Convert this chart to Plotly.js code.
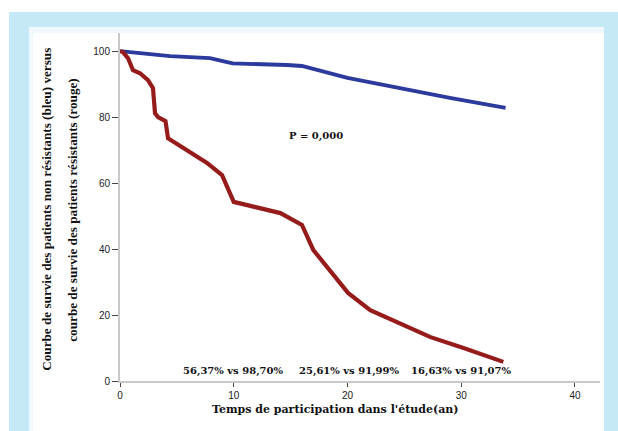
<!DOCTYPE html>
<html>
<head>
<meta charset="utf-8">
<script src="https://cdn.plot.ly/plotly-3.0.1.min.js"></script>
<style>
  html, body { margin: 0; padding: 0; background: #ffffff; }
  #wrap { position: relative; width: 618px; height: 431px; overflow: hidden; background: #ffffff; }
  #outer { position: absolute; left: 9px; top: 12px; width: 609px; height: 419px; background: #c6e9f8; }
  #inner { position: absolute; left: 29px; top: 27px; width: 575px; height: 404px; background: #eef8fd; }
  #white { position: absolute; left: 33px; top: 33px; width: 571px; height: 398px; background: #ffffff; }
  #chart { position: absolute; left: 0; top: 0; width: 618px; height: 431px; }
</style>
</head>
<body>
<div id="wrap">
  <div id="outer"></div>
  <div id="inner"></div>
  <div id="white"></div>
  <div id="chart"></div>
</div>
<script>
// Survival curve of non-resistant patients (blue)
const blueX = [0, 2.8, 3.8, 4.4, 7.9, 9.9, 14.7, 16.0, 20.0, 24.6, 29.0, 33.9];
const blueY = [100, 99.1, 98.6, 98.5, 97.9, 96.3, 95.8, 95.5, 91.9, 88.8, 85.8, 82.8];

// Survival curve of resistant patients (red)
const redX = [0, 0.26, 0.7, 1.14, 1.76, 2.46, 2.9, 3.08, 3.34, 4.0, 4.22, 5.45, 7.65, 8.97, 10.0, 14.1, 16.0, 17.0, 18.2, 20.05, 22.0, 24.4, 27.3, 30.2, 33.7];
const redY = [100, 99.7, 97.9, 94.2, 93.3, 91.2, 88.8, 81.2, 80.0, 78.8, 73.6, 70.9, 66.1, 62.4, 54.3, 50.9, 47.3, 39.7, 34.5, 26.7, 21.5, 17.9, 13.3, 10.0, 5.8];

const xTicks = [0, 10, 20, 30, 40];
const yTicks = [0, 20, 40, 60, 80, 100];

const pText = "P = 0,000";
const compLabels = ["56,37% vs 98,70%", "25,61% vs 91,99%", "16,63% vs 91,07%"];
const compX = [9.95, 20.2, 30.0];
const compY = [3.0, 3.0, 3.0];

const xTitle = "Temps de participation dans l'étude(an)";
const yTitleLines = ["Courbe de survie des patients non résistants (bleu) versus",
                     "courbe de survie des patients résistants (rouge)"];

const traces = [
  { x: blueX, y: blueY, type: 'scatter', mode: 'lines', name: 'non résistants',
    line: { color: '#2b3a9c', width: 3.8 }, hoverinfo: 'x+y' },
  { x: redX, y: redY, type: 'scatter', mode: 'lines', name: 'résistants',
    line: { color: '#961c1c', width: 4.2 }, hoverinfo: 'x+y' }
];

const annFont = { family: 'DejaVu Serif', size: 10, color: '#111111' };
const annotations = compLabels.map((t, i) => ({
  x: compX[i], y: compY[i], xref: 'x', yref: 'y', text: '<b>' + t + '</b>',
  showarrow: false, font: annFont, xanchor: 'center', yanchor: 'middle'
}));
annotations.push({
  x: 17.2, y: 74.2, xref: 'x', yref: 'y', text: '<b>' + pText + '</b>',
  showarrow: false, font: { family: 'DejaVu Serif', size: 10, color: '#111111' },
  xanchor: 'center', yanchor: 'middle'
});
// x axis title (positioned as in the original)
annotations.push({
  x: 0.448, y: -0.083, xref: 'paper', yref: 'paper', text: '<b>' + xTitle + '</b>',
  showarrow: false, font: { family: 'DejaVu Serif', size: 11, color: '#111111' },
  xanchor: 'center', yanchor: 'middle'
});
// y axis title, two lines
const yTitleX = [-0.152, -0.098];
yTitleLines.forEach((t, i) => annotations.push({
  x: yTitleX[i], y: 0.492, xref: 'paper', yref: 'paper', text: '<b>' + t + '</b>',
  showarrow: false, textangle: -90,
  font: { family: 'Liberation Serif', size: 13.2, color: '#111111' },
  xanchor: 'center', yanchor: 'middle'
}));

const layout = {
  width: 618, height: 431,
  paper_bgcolor: 'rgba(0,0,0,0)', plot_bgcolor: 'rgba(0,0,0,0)',
  margin: { l: 120, r: 18, t: 33, b: 50 },
  showlegend: false,
  xaxis: {
    range: [0, 42.2], tickvals: xTicks, ticktext: xTicks.map(String),
    showgrid: false, zeroline: false, showline: true, linecolor: '#c9c9c9', linewidth: 2,
    ticks: 'outside', ticklen: 4, tickcolor: '#444444', tickwidth: 1,
    tickfont: { family: 'Liberation Sans, Arial', size: 10, color: '#222222' }
  },
  yaxis: {
    range: [0, 105.5], tickvals: yTicks, ticktext: yTicks.map(String),
    showgrid: false, zeroline: false, showline: true, linecolor: '#c9c9c9', linewidth: 2,
    ticks: 'outside', ticklen: 6, tickcolor: '#444444', tickwidth: 1,
    tickfont: { family: 'Liberation Sans, Arial', size: 10, color: '#222222' }
  },
  annotations: annotations
};

Plotly.newPlot('chart', traces, layout, { displayModeBar: false, staticPlot: true });
</script>
</body>
</html>
